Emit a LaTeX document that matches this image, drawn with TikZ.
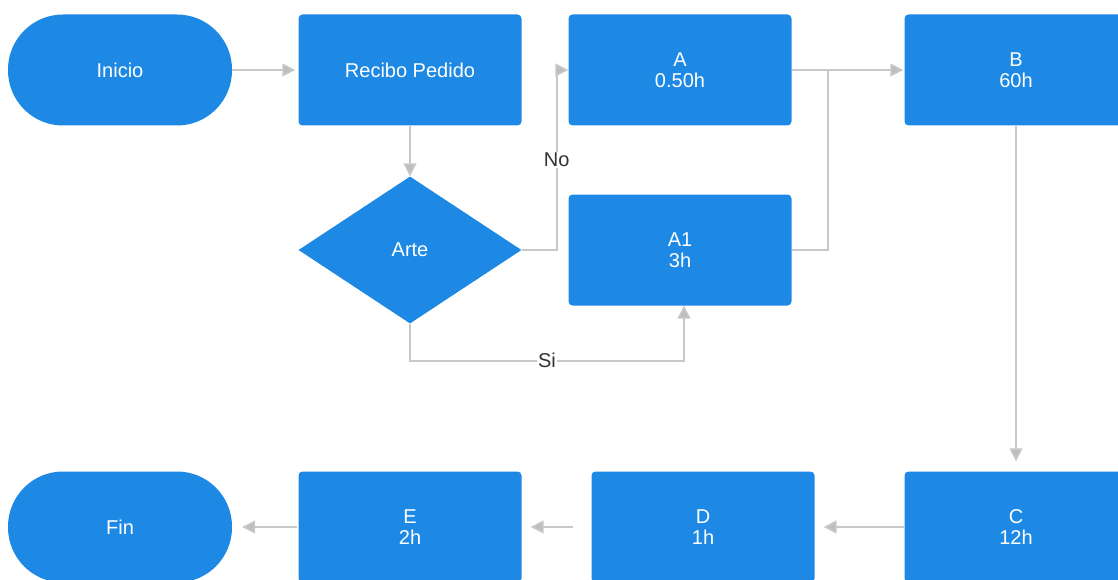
\documentclass[tikz,border=0pt]{standalone}
\usepackage{fontspec}
\setmainfont{Liberation Sans}
\usetikzlibrary{shapes.geometric,arrows.meta}

\definecolor{azul}{RGB}{30,137,229}
\definecolor{gris}{RGB}{200,200,200}
\definecolor{texto}{RGB}{51,51,51}

\begin{document}
\begin{tikzpicture}[
    x=1pt, y=-1pt,
    font=\fontsize{20}{20.5}\selectfont,
    caja/.style={rectangle, fill=azul, text=white, align=center, inner sep=0pt, minimum width=223pt, minimum height=111pt, rounded corners=4pt},
    terminal/.style={caja, minimum width=224pt, rounded corners=55pt},
    decision/.style={diamond, fill=azul, text=white, inner sep=0pt, minimum width=223pt, minimum height=147pt},
    linea/.style={draw=gris, line width=1.6pt, -{Triangle[length=13pt,width=13pt,fill=gris!95!black]}},
    union/.style={draw=gris, line width=1.6pt},
    etiqueta/.style={fill=white, text=texto, inner sep=1.5pt}
]
\useasboundingbox (0,0) rectangle (1118,580);

% Fila superior
\node[terminal] (inicio) at (120,70) {Inicio};
\node[caja] (recibo) at (410,70) {Recibo Pedido};
\node[caja] (a) at (680,70) {A\\0.50h};
\node[caja] (b) at (1016,70) {B\\60h};

% Decision y camino alterno
\node[decision] (arte) at (410,250) {Arte};
\node[caja] (a1) at (680,250) {A1\\3h};
\coordinate (cruce) at (828,70);

% Fila inferior
\node[terminal] (fin) at (120,527) {Fin};
\node[caja] (e) at (410,527) {E\\2h};
\node[caja] (d) at (703,527) {D\\1h};
\node[caja] (c) at (1016,527) {C\\12h};

% Conexiones
\draw[linea, shorten >=3pt] (inicio.east) -- (recibo.west);
\draw[linea] (recibo.south) -- (arte.north);
\draw[linea] (arte.east) -- ++(35,0) |- (a.west) node[etiqueta, pos=0.25] {No};
\draw[linea] (arte.south) -- ++(0,37) -| ([xshift=4pt]a1.south) node[etiqueta, pos=0.25] {Si};
\draw[union] (a1.east) -| (cruce);
\draw[linea, shorten >=1pt] (a.east) -- (b.west);
\draw[linea, shorten >=10pt] (b.south) -- (c.north);
\draw[linea, shorten >=9pt] (c.west) -- (d.east);
\draw[linea, shorten <=18pt, shorten >=9pt] (d.west) -- (e.east);
\draw[linea, shorten <=1pt, shorten >=10pt] (e.west) -- (fin.east);

\end{tikzpicture}
\end{document}
